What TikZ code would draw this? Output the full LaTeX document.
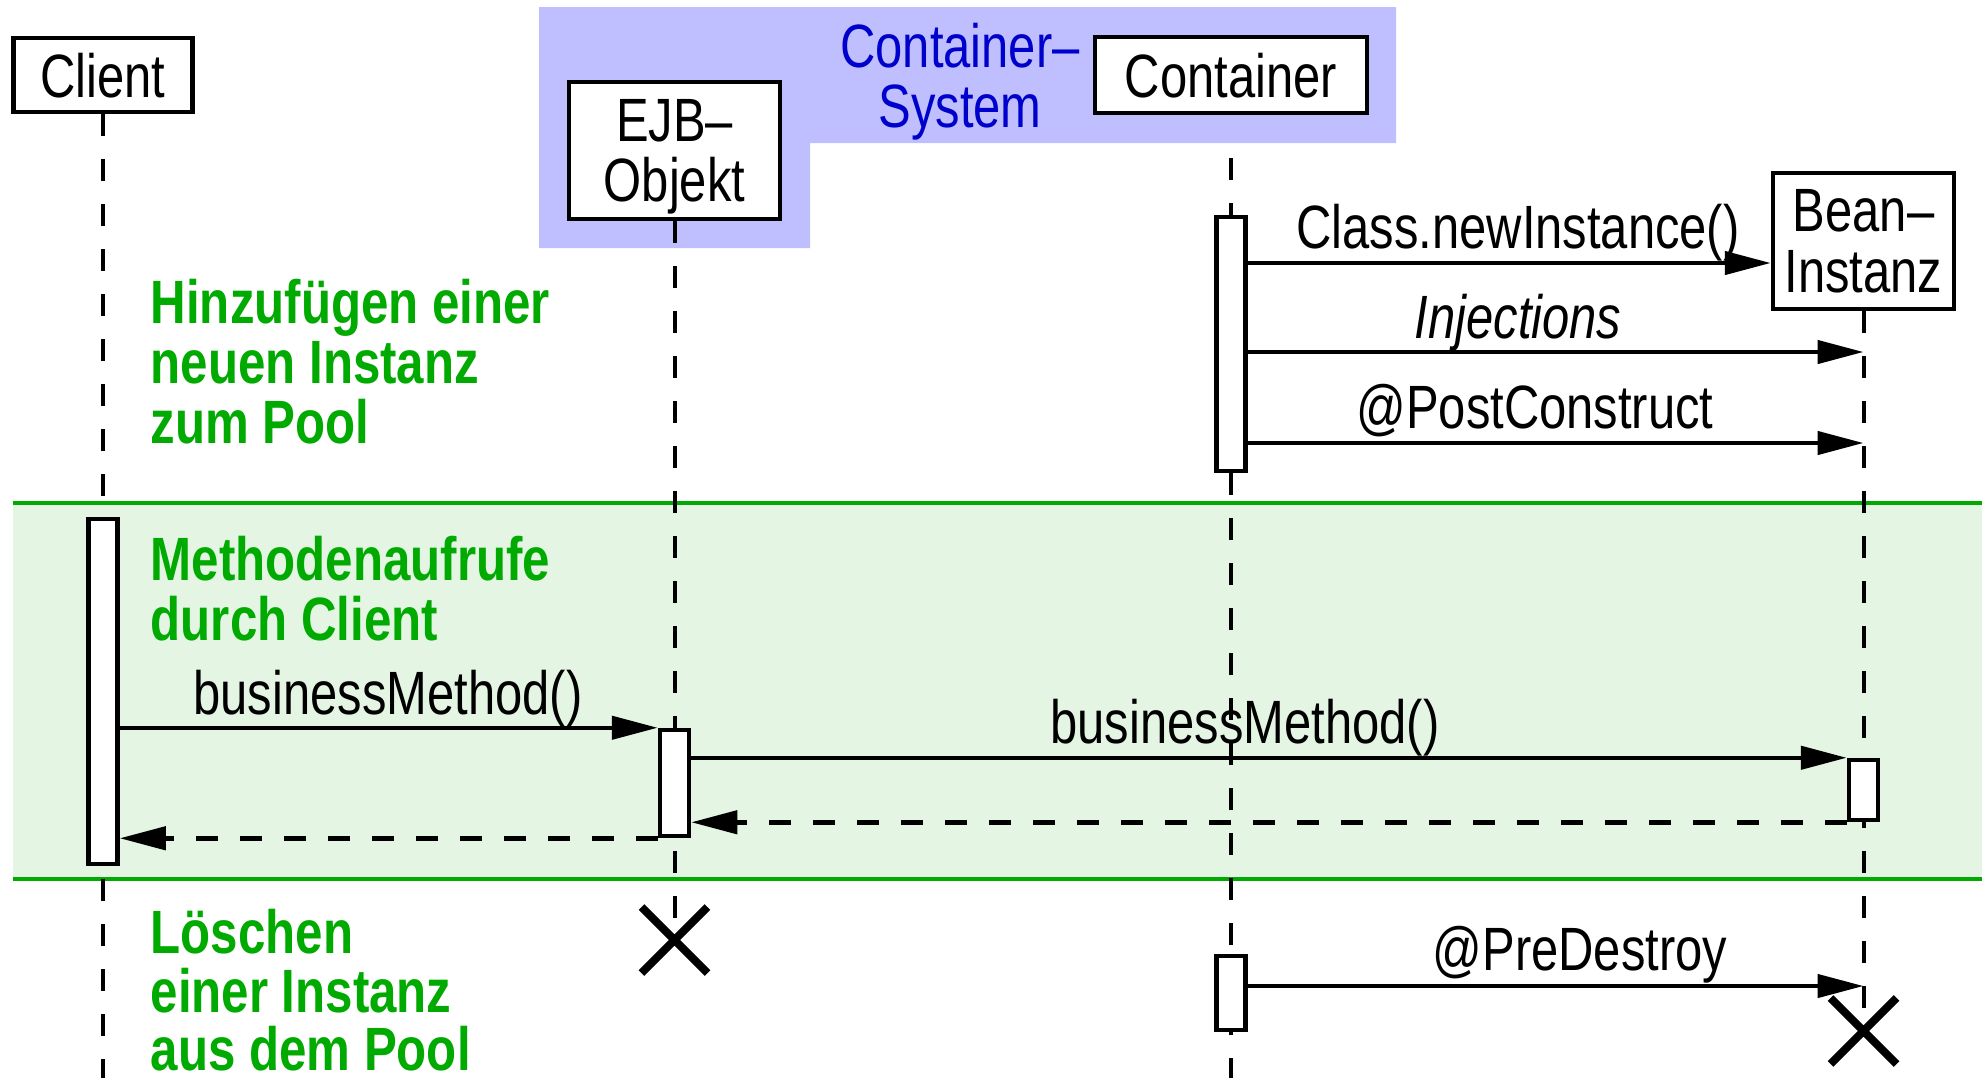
\documentclass[tikz,border=0pt]{standalone}
\usepackage{fontspec}
\setmainfont{Liberation Sans}[FakeStretch=0.80,BoldFeatures={FakeStretch=0.805}]
\usetikzlibrary{arrows.meta,shapes.misc}
\definecolor{sysblue}{RGB}{191,191,255}
\definecolor{systext}{RGB}{0,0,204}
\definecolor{phasegreen}{RGB}{0,170,0}
\definecolor{bandgreen}{RGB}{228,245,228}

\begin{document}
\begin{tikzpicture}[x=0.1mm,y=-0.1mm,
  font=\fontsize{17.4pt}{17.1pt}\selectfont,
  obj/.style={draw,line width=0.45mm,fill=white,inner sep=0pt,align=center,text depth=0pt},
  actbar/.style={draw,line width=0.45mm,fill=white,inner sep=0pt,minimum width=2.9mm},
  lifeline/.style={line width=0.4mm,dash pattern=on 2.2mm off 2.3mm},
  msg/.style={line width=0.45mm,-{Triangle[length=4.6mm,width=2.3mm]}},
  reply/.style={msg,dash pattern=on 2.2mm off 2.2mm},
  lbl/.style={anchor=base,inner sep=0pt},
  phase/.style={anchor=base west,inner sep=0pt,text=phasegreen,
    font=\fontsize{17.4pt}{17.1pt}\selectfont\bfseries},
  sysname/.style={anchor=base,inner sep=0pt,text=systext},
  destroy/.style={cross out,draw,line width=0.8mm,minimum size=5.8mm,inner sep=0pt}
]
\useasboundingbox (0,0) rectangle (1982,1078);

% phase band for the client calls
\fill[bandgreen] (13,503) rectangle (1982,879);
\draw[phasegreen,line width=0.45mm] (13,503) -- (1982,503);
\draw[phasegreen,line width=0.45mm] (13,879) -- (1982,879);

% container system area
\fill[sysblue] (539,7) -- (1396,7) -- (1396,143) -- (810,143) -- (810,248) -- (539,248) -- cycle;
\node[sysname] (sys1) at (960,67) {Container–};
\node[sysname] (sys2) at (960,127) {System};

% participants
\node[obj,minimum width=17.9mm,minimum height=7.4mm] (client) at (103,75) {Client};
\node[obj,minimum width=21.1mm,minimum height=13.7mm] (ejb) at (674.5,150.5) {EJB–\\Objekt};
\node[obj,minimum width=27.2mm,minimum height=7.6mm] (container) at (1231,75) {Container};
\node[obj,minimum width=18.1mm,minimum height=13.6mm] (bean) at (1863.5,241) {Bean–\\Instanz};

\coordinate (pagebottom) at (0,1078);
\coordinate (sysbottom) at (0,143);

% end of life
\node[destroy] (ejbend) at (674.5,940) {};
\node[destroy] (beanend) at (1863.5,1031) {};

% lifelines
\draw[lifeline] (client.south) -- (client |- pagebottom);
\draw[lifeline] (ejb.south) -- (ejbend.center);
\draw[lifeline,dash phase=3mm] (container |- sysbottom) -- (container |- pagebottom);
\draw[lifeline] (bean.south) -- (beanend.center);

% activations
\node[actbar,minimum height=25.4mm] (ctbarA) at (1231,344) {};
\node[actbar,minimum height=34.5mm] (clientbar) at (103,691.5) {};
\node[actbar,minimum height=10.6mm] (ejbbar) at (674.5,783) {};
\node[actbar,minimum height=7.4mm] (ctbarB) at (1231,993) {};
\node[actbar,minimum height=6.0mm] (beanbar) at (1863.5,790) {};

% messages
\draw[msg] (ctbarA.east |- 0,263) -- (bean.west |- 0,263);
\draw[msg] (ctbarA.east |- 0,352) -- (bean |- 0,352);
\draw[msg] (ctbarA.east |- 0,443) -- (bean |- 0,443);
\draw[msg] (clientbar.east |- ejbbar.north) -- (ejbbar.north west);
\draw[msg] (ejbbar.east |- beanbar.north) -- (beanbar.north west);
\draw[reply] (beanbar.south west) -- (ejbbar.east |- beanbar.south);
\draw[reply] (ejbbar.south west) -- (clientbar.east |- ejbbar.south);
\draw[msg] (ctbarB.east |- 0,986) -- (bean |- 0,986);

% message labels
\node[lbl] (newinst) at (1518,248) {Class.newInstance()};
\node[lbl] (inj) at (1518,338) {\itshape Injections};
\node[lbl] (postc) at (1535,428) {@PostConstruct};
\node[lbl] (bmA) at (388,714) {businessMethod()};
\node[lbl] (bmB) at (1245,743) {businessMethod()};
\node[lbl] (pred) at (1580,970) {@PreDestroy};

% phase descriptions
\node[phase] (addA) at (150,323) {Hinzufügen einer};
\node[phase] (addB) at (150,383) {neuen Instanz};
\node[phase] (addC) at (150,443) {zum Pool};
\node[phase] (callA) at (150,580) {Methodenaufrufe};
\node[phase] (callB) at (150,640) {durch Client};
\node[phase] (delA) at (150,953) {Löschen};
\node[phase] (delB) at (150,1012) {einer Instanz};
\node[phase] (delC) at (150,1070) {aus dem Pool};
\end{tikzpicture}
\end{document}
